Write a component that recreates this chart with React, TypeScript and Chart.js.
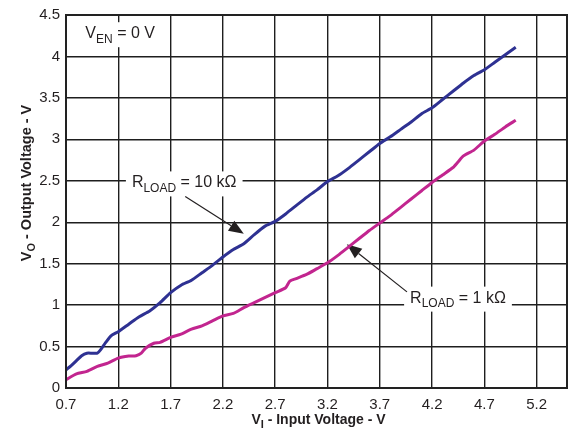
import { useEffect, useRef } from "react";
import { Chart, registerables } from "chart.js";

Chart.register(...registerables);

// Output voltage vs input voltage, V_EN = 0 V
const inputV10k = [
  0.7, 0.75, 0.8, 0.85, 0.9, 0.95, 1.0, 1.03, 1.08, 1.13, 1.2, 1.3, 1.4, 1.5, 1.6, 1.7, 1.8, 1.9, 2.0,
  2.1, 2.2, 2.3, 2.4, 2.5, 2.6, 2.7, 2.8, 2.9, 3.0, 3.1, 3.2, 3.3, 3.4, 3.5, 3.6, 3.7, 3.8, 3.9, 4.0,
  4.1, 4.2, 4.3, 4.4, 4.5, 4.6, 4.7, 4.8, 4.9, 5.0,
];
const outputV10k = [
  0.22, 0.27, 0.33, 0.39, 0.42, 0.42, 0.42, 0.46, 0.55, 0.63, 0.68, 0.77, 0.86, 0.93, 1.03, 1.15, 1.24,
  1.3, 1.39, 1.48, 1.58, 1.67, 1.74, 1.85, 1.95, 2.01, 2.1, 2.2, 2.3, 2.39, 2.49, 2.56, 2.65, 2.75, 2.85,
  2.95, 3.03, 3.12, 3.21, 3.31, 3.38, 3.48, 3.58, 3.68, 3.77, 3.84, 3.93, 4.02, 4.11,
];
const inputV1k = [
  0.7, 0.8, 0.9, 1.0, 1.1, 1.2, 1.3, 1.37, 1.42, 1.46, 1.54, 1.6, 1.7, 1.8, 1.9, 2.0, 2.1, 2.2, 2.3, 2.4,
  2.5, 2.6, 2.7, 2.8, 2.84, 2.9, 3.0, 3.1, 3.2, 3.3, 3.4, 3.5, 3.6, 3.7, 3.8, 3.9, 4.0, 4.1, 4.2, 4.3,
  4.4, 4.45, 4.5, 4.6, 4.7, 4.8, 4.9, 5.0,
];
const outputV1k = [
  0.1, 0.17, 0.2, 0.26, 0.3, 0.36, 0.385, 0.39, 0.42, 0.48, 0.54, 0.55, 0.61, 0.65, 0.71, 0.75, 0.81,
  0.87, 0.9, 0.97, 1.03, 1.09, 1.15, 1.21, 1.29, 1.32, 1.37, 1.44, 1.51, 1.6, 1.7, 1.8, 1.9, 1.99, 2.08,
  2.18, 2.28, 2.38, 2.48, 2.57, 2.66, 2.73, 2.8, 2.87, 2.98, 3.06, 3.15, 3.23,
];
const xTicks = [0.7, 1.2, 1.7, 2.2, 2.7, 3.2, 3.7, 4.2, 4.7, 5.2];
const xMin = 0.7;
const xMax = 5.49;
const yMin = 0;
const yMax = 4.5;
const yStep = 0.5;

const TEXT = "#231f20";
const FONT = '"Liberation Sans", Arial, Helvetica, sans-serif';

type Part = { t: string; sub?: boolean };

function partsWidth(ctx: CanvasRenderingContext2D, parts: Part[], size: number, weight: string) {
  let w = 0;
  for (const p of parts) {
    const s = p.sub ? Math.round(size * 0.75) : size;
    ctx.font = `${weight} ${s}px ${FONT}`;
    w += ctx.measureText(p.t).width;
  }
  return w;
}

function drawParts(
  ctx: CanvasRenderingContext2D,
  parts: Part[],
  x: number,
  y: number,
  size: number,
  weight: string
) {
  let cx = x;
  ctx.textAlign = "left";
  ctx.textBaseline = "alphabetic";
  for (const p of parts) {
    const s = p.sub ? Math.round(size * 0.75) : size;
    ctx.font = `${weight} ${s}px ${FONT}`;
    ctx.fillText(p.t, cx, p.sub ? y + size * 0.3 : y);
    cx += ctx.measureText(p.t).width;
  }
}

function arrow(ctx: CanvasRenderingContext2D, x0: number, y0: number, x1: number, y1: number) {
  const ang = Math.atan2(y1 - y0, x1 - x0);
  const len = 15;
  const half = 6;
  const bx = x1 - len * Math.cos(ang);
  const by = y1 - len * Math.sin(ang);
  ctx.strokeStyle = TEXT;
  ctx.lineWidth = 1.2;
  ctx.beginPath();
  ctx.moveTo(x0, y0);
  ctx.lineTo(bx, by);
  ctx.stroke();
  ctx.fillStyle = TEXT;
  ctx.beginPath();
  ctx.moveTo(x1, y1);
  ctx.lineTo(bx + half * Math.sin(ang), by - half * Math.cos(ang));
  ctx.lineTo(bx - half * Math.sin(ang), by + half * Math.cos(ang));
  ctx.closePath();
  ctx.fill();
}

const decorations = {
  id: "decorations",
  beforeDatasetsDraw(chart: any) {
    const { ctx, chartArea: a, scales } = chart;
    const sx = scales.x;
    const sy = scales.y;
    const px = (v: number) => sx.getPixelForValue(v);
    const py = (v: number) => sy.getPixelForValue(v);
    ctx.save();

    // label boxes (white, covering the grid)
    const labels: { parts: Part[]; x: number; y: number }[] = [
      { parts: [{ t: "V" }, { t: "EN", sub: true }, { t: " = 0 V" }], x: 0.885, y: 4.22 },
      { parts: [{ t: "R" }, { t: "LOAD", sub: true }, { t: " = 10 k\u03a9" }], x: 1.33, y: 2.42 },
      { parts: [{ t: "R" }, { t: "LOAD", sub: true }, { t: " = 1 k\u03a9" }], x: 3.99, y: 1.03 },
    ];
    for (const l of labels) {
      const w = partsWidth(ctx, l.parts, 16, "normal");
      const x = px(l.x);
      const y = py(l.y);
      ctx.fillStyle = "#ffffff";
      ctx.fillRect(x - 6, y - 16, w + 12, 25);
      ctx.fillStyle = TEXT;
      drawParts(ctx, l.parts, x, y, 16, "normal");
    }

    // arrows pointing at each curve
    arrow(ctx, px(1.84), py(2.31), px(2.4), py(1.86));
    arrow(ctx, px(3.96), py(1.16), px(3.385), py(1.735));

    // axis titles
    ctx.fillStyle = TEXT;
    const xt: Part[] = [{ t: "V" }, { t: "I", sub: true }, { t: " - Input Voltage - V" }];
    const xw = partsWidth(ctx, xt, 14, "bold");
    drawParts(ctx, xt, (a.left + a.right) / 2 - xw / 2 + 2, 424, 14, "bold");

    const yt: Part[] = [{ t: "V" }, { t: "O", sub: true }, { t: " - Output Voltage - V" }];
    const yw = partsWidth(ctx, yt, 14.5, "bold");
    ctx.translate(31, 183);
    ctx.rotate(-Math.PI / 2);
    drawParts(ctx, yt, -yw / 2, 0, 14.5, "bold");
    ctx.restore();
  },
  afterDatasetsDraw(chart: any) {
    const { ctx, chartArea: a } = chart;
    ctx.save();
    ctx.strokeStyle = "#222";
    ctx.lineWidth = 2;
    ctx.strokeRect(a.left, a.top, a.right - a.left, a.bottom - a.top);
    ctx.restore();
  },
};

export default function App() {
  const ref = useRef<HTMLCanvasElement | null>(null);

  useEffect(() => {
    if (!ref.current) return;
    const chart = new Chart(ref.current, {
      type: "line",
      data: {
        datasets: [
          {
            label: "RLOAD = 10 kΩ",
            data: inputV10k.map((x, i) => ({ x, y: outputV10k[i] })),
            borderColor: "#2e3192",
            borderWidth: 3,
            pointRadius: 0,
            tension: 0.2,
            fill: false,
          },
          {
            label: "RLOAD = 1 kΩ",
            data: inputV1k.map((x, i) => ({ x, y: outputV1k[i] })),
            borderColor: "#c2258f",
            borderWidth: 3,
            pointRadius: 0,
            tension: 0.2,
            fill: false,
          },
        ],
      },
      options: {
        animation: false,
        responsive: false,
        layout: { padding: { left: 0, right: 10, top: 12, bottom: 0 } },
        plugins: { legend: { display: false }, tooltip: { enabled: false } },
        scales: {
          x: {
            type: "linear",
            min: xMin,
            max: xMax,
            afterBuildTicks: (s: any) => {
              s.ticks = xTicks.map((v) => ({ value: v }));
            },
            afterFit: (s: any) => {
              s.height = 51;
            },
            ticks: {
              callback: (v: any) => Number(v).toFixed(1),
              font: { size: 15, family: FONT },
              color: TEXT,
              padding: 8,
              maxRotation: 0,
              autoSkip: false,
            },
            grid: { color: "#1e1e1e", lineWidth: 1.4, drawTicks: false },
            border: { display: false },
          },
          y: {
            type: "linear",
            min: yMin,
            max: yMax,
            afterFit: (s: any) => {
              s.width = 66;
            },
            ticks: {
              stepSize: yStep,
              callback: (v: any) => String(Number(v)),
              font: { size: 15, family: FONT },
              color: TEXT,
              padding: 6,
            },
            grid: { color: "#1e1e1e", lineWidth: 1.4, drawTicks: false },
            border: { display: false },
          },
        },
      },
      plugins: [decorations],
    });
    return () => chart.destroy();
  }, []);

  return (
    <div style={{ position: "fixed", left: 0, top: 0, width: 577, height: 439, background: "#fff" }}>
      <canvas ref={ref} width={577} height={439} style={{ width: 577, height: 439 }} />
    </div>
  );
}
